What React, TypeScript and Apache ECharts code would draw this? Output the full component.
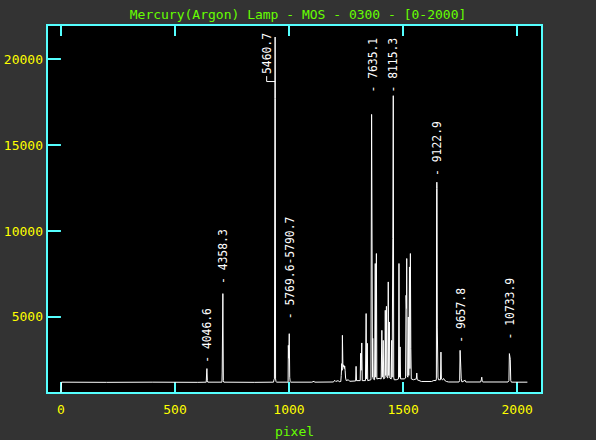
import React, { useEffect, useRef } from "react";
import * as echarts from "echarts";

// Spectrum: detector pixel vs counts
const specPixel = [
  0, 3, 200, 400, 600, 637, 639, 640, 642, 644,
  706, 707, 709, 710, 711, 712, 714, 850, 932, 934,
  936, 938, 939, 940, 941, 943, 945, 996, 997, 999,
  1001, 1002, 1003, 1005, 1007, 1100, 1110, 1112, 1195, 1200,
  1205, 1215, 1220, 1227, 1229, 1231, 1233, 1234, 1236, 1238,
  1240, 1242, 1244, 1246, 1248, 1251, 1260, 1266, 1292, 1294,
  1296, 1312, 1314, 1316, 1319, 1321, 1335, 1338, 1340, 1343,
  1345, 1359, 1362, 1364, 1366, 1367, 1369, 1375, 1378, 1380,
  1383, 1385, 1395, 1404, 1407, 1409, 1413, 1415, 1420, 1422,
  1424, 1427, 1429, 1433, 1435, 1437, 1440, 1442, 1448, 1450,
  1452, 1455, 1457, 1459, 1461, 1470, 1480, 1482, 1484, 1487,
  1489, 1505, 1511, 1513, 1515, 1516, 1518, 1521, 1523, 1525,
  1528, 1530, 1532, 1534, 1536, 1545, 1558, 1560, 1562, 1580,
  1625, 1635, 1644, 1646, 1647, 1648, 1649, 1650, 1651, 1653,
  1655, 1664, 1666, 1668, 1672, 1678, 1681, 1690, 1700, 1745,
  1748, 1750, 1751, 1753, 1755, 1758, 1772, 1775, 1840, 1843,
  1845, 1847, 1850, 1960, 1964, 1966, 1968, 1970, 1972, 1975,
  2045,
];
const specCount = [
  600, 1210, 1200, 1210, 1200, 1210, 1800, 2000, 1300, 1210,
  1210, 1800, 1800, 6360, 6360, 1300, 1210, 1200, 1210, 1350,
  1400, 17720, 21280, 17720, 1400, 1250, 1210, 1210, 3350, 2600,
  4030, 4030, 1500, 1250, 1210, 1210, 1260, 1210, 1220, 1320,
  1250, 1300, 1240, 1250, 1600, 2290, 1900, 3935, 2300, 2100,
  2200, 2000, 2150, 1900, 1450, 1300, 1350, 1260, 1280, 2130,
  1300, 1300, 2890, 1900, 3490, 1300, 1300, 5200, 1400, 3470,
  1300, 1350, 16780, 16780, 1500, 3760, 1400, 1350, 8110, 1500,
  8690, 1400, 1430, 1400, 4225, 1500, 3640, 1400, 1450, 5390,
  1600, 5620, 1500, 1450, 7040, 1600, 4710, 1450, 1400, 3640,
  1500, 9560, 17870, 1500, 1350, 1350, 1400, 8110, 1500, 3260,
  1400, 1400, 1450, 6260, 5500, 8400, 1600, 1500, 5000, 1600,
  7910, 2000, 8690, 3160, 1400, 1350, 1400, 1740, 1350, 1250,
  1250, 1310, 1300, 1400, 12470, 12840, 12470, 4360, 4360, 1500,
  1350, 1350, 2960, 1400, 1350, 1420, 1330, 1250, 1220, 1220,
  1300, 3060, 3060, 2090, 1400, 1220, 1320, 1220, 1220, 1350,
  1500, 1250, 1220, 1220, 1300, 2870, 2870, 2540, 1300, 1210,
  1210,
];

// Line identifications (wavelengths) and where each label starts
const labelText = [
  "- 4046.6", "- 4358.3", "5460.7", "- 5769.6-5790.7", "- 7635.1",
  "- 8115.3", "- 9122.9", "- 9657.8", "- 10733.9",
];
const labelPixel = [639, 709, 902, 1004, 1368, 1456, 1647, 1752, 1966];
const labelCount = [2338, 6918, 19130, 4869, 18052, 18052, 13204, 3502, 3694];

// Leader line for the displaced 5460.7 label
const leaderPixel = [902, 902, 939];
const leaderCount = [19010, 18692, 18692];

const xTicks = [0, 500, 1000, 1500, 2000];
const yTicks = [5000, 10000, 15000, 20000];

const TITLE = "Mercury(Argon) Lamp - MOS - 0300 - [0-2000]";
const X_NAME = "pixel";

export default function App() {
  const ref = useRef<HTMLDivElement>(null);

  useEffect(() => {
    if (!ref.current) return;
    const chart = echarts.init(ref.current, null, { renderer: "svg" });
    const cyan = "#55ffff";
    const green = "#66ff00";
    const yellow = "#ffff00";
    const mono = '"DejaVu Sans Mono", monospace';
    const plain = (v: number) => String(v);

    const tick = (vals: number[]) => ({
      show: true,
      inside: true,
      length: 11,
      lineStyle: { color: cyan, width: 2 },
      customValues: vals,
    });

    const yBase = {
      type: "value",
      min: 580,
      max: 21980,
      axisLine: { show: false },
      splitLine: { show: false },
    };

    const option: any = {
      animation: false,
      backgroundColor: "#333333",
      title: {
        text: TITLE,
        left: "center",
        top: 8,
        padding: 0,
        textStyle: { color: green, fontFamily: mono, fontSize: 13, fontWeight: "normal" },
      },
      grid: {
        left: 47,
        top: 25,
        width: 495,
        height: 368,
        show: true,
        backgroundColor: "#000000",
        borderColor: cyan,
        borderWidth: 2,
        containLabel: false,
        outerBoundsMode: "none",
      },
      xAxis: [
        {
          type: "value",
          min: -61,
          max: 2109,
          position: "bottom",
          axisLine: { show: false },
          splitLine: { show: false },
          axisTick: tick(xTicks),
          axisLabel: {
            color: yellow,
            fontFamily: mono,
            fontSize: 13,
            margin: 10,
            customValues: xTicks,
            formatter: plain,
          },
          name: X_NAME,
          nameLocation: "middle",
          nameGap: 38,
          nameTextStyle: { color: green, fontFamily: mono, fontSize: 13, verticalAlign: "middle" },
        },
        {
          type: "value",
          min: -61,
          max: 2109,
          position: "top",
          axisLine: { show: false },
          splitLine: { show: false },
          axisTick: tick(xTicks),
          axisLabel: { show: false },
        },
      ],
      yAxis: [
        {
          ...yBase,
          position: "left",
          axisTick: { show: false },
          axisLabel: {
            color: yellow,
            fontFamily: mono,
            fontSize: 13,
            margin: 4,
            customValues: yTicks,
            formatter: plain,
          },
        },
        {
          ...yBase,
          position: "right",
          axisTick: tick(yTicks),
          axisLabel: { show: false },
        },
        {
          ...yBase,
          position: "left",
          offset: 0,
          axisTick: tick(yTicks),
          axisLabel: { show: false },
        },
      ],
      series: [
        {
          type: "line",
          xAxisIndex: 0,
          yAxisIndex: 0,
          data: specPixel.map((p, i) => [p, specCount[i]]),
          showSymbol: false,
          symbol: "none",
          lineStyle: { color: "#ffffff", width: 1 },
          itemStyle: { color: "#ffffff" },
          silent: true,
        },
        {
          type: "line",
          xAxisIndex: 0,
          yAxisIndex: 0,
          data: leaderPixel.map((p, i) => [p, leaderCount[i]]),
          showSymbol: false,
          symbol: "none",
          lineStyle: { color: "#ffffff", width: 1 },
          itemStyle: { color: "#ffffff" },
          silent: true,
        },
        {
          type: "custom",
          xAxisIndex: 0,
          yAxisIndex: 0,
          data: labelPixel.map((p, i) => [p, labelCount[i], i]),
          silent: true,
          renderItem: (params: any, api: any) => {
            const pt = api.coord([api.value(0), api.value(1)]);
            return {
              type: "text",
              x: pt[0],
              y: pt[1],
              rotation: Math.PI / 2,
              scaleX: 0.875,
              style: {
                text: labelText[params.dataIndex],
                fill: "#ffffff",
                font: '13px "DejaVu Sans Mono", monospace',
                align: "left",
                verticalAlign: "middle",
              },
            };
          },
        },
      ],
    };

    chart.setOption(option);
    return () => chart.dispose();
  }, []);

  return (
    <div
      ref={ref}
      style={{ position: "fixed", left: 0, top: 0, width: 596, height: 440 }}
    />
  );
}
